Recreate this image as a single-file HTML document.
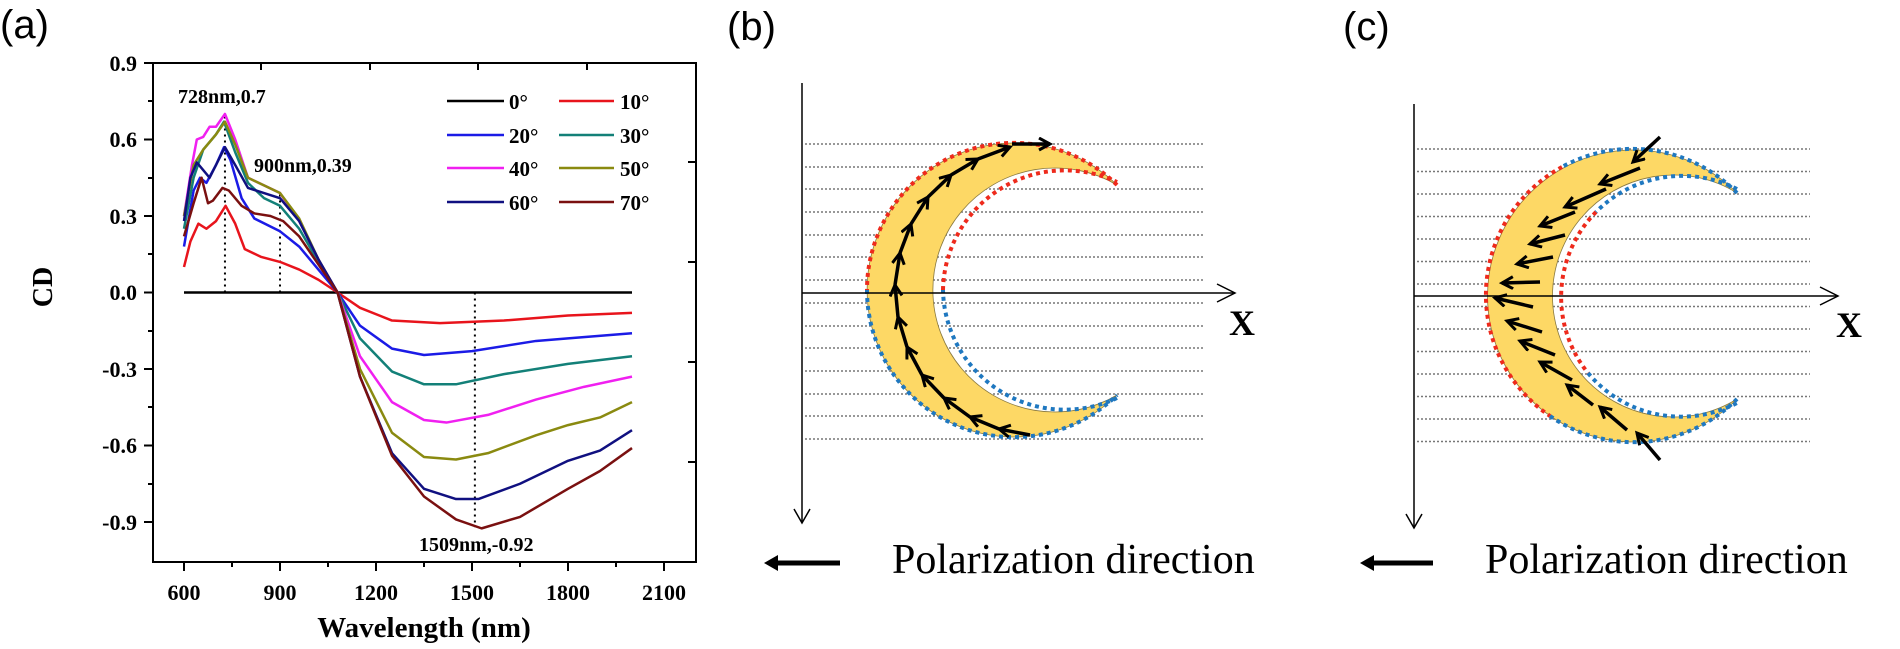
<!DOCTYPE html>
<html><head><meta charset="utf-8"><style>
html,body{margin:0;padding:0;background:#fff;}
svg{display:block}
.t{font-family:"Liberation Serif",serif;font-weight:bold;fill:#000}
</style></head><body>
<svg width="1900" height="649" viewBox="0 0 1900 649" xmlns="http://www.w3.org/2000/svg">
<defs>
<marker id="ah" markerUnits="userSpaceOnUse" markerWidth="16" markerHeight="16" refX="12" refY="7" orient="auto">
<path d="M1,1 L12,7 L1,13" fill="none" stroke="#000" stroke-width="3"/>
</marker>
<marker id="ah2" markerUnits="userSpaceOnUse" markerWidth="16" markerHeight="20" refX="12" refY="9" orient="auto">
<path d="M1,1 L12,9 L1,17" fill="none" stroke="#000" stroke-width="2"/>
</marker>
</defs>

<!-- (a) -->
<text x="0" y="38" font-family="Liberation Sans,sans-serif" font-size="40">(a)</text>
<rect x="153" y="63" width="543" height="499" fill="none" stroke="#000" stroke-width="2"/>
<g stroke="#000" stroke-width="2">
<line x1="184" y1="562" x2="184" y2="571"/><line x1="280" y1="562" x2="280" y2="571"/><line x1="376" y1="562" x2="376" y2="571"/><line x1="472" y1="562" x2="472" y2="571"/><line x1="568" y1="562" x2="568" y2="571"/><line x1="664" y1="562" x2="664" y2="571"/>
<line x1="232" y1="562" x2="232" y2="567"/><line x1="328" y1="562" x2="328" y2="567"/><line x1="424" y1="562" x2="424" y2="567"/><line x1="520" y1="562" x2="520" y2="567"/><line x1="616" y1="562" x2="616" y2="567"/>
<line x1="153" y1="63" x2="144" y2="63"/><line x1="153" y1="139.5" x2="144" y2="139.5"/><line x1="153" y1="216" x2="144" y2="216"/><line x1="153" y1="292.5" x2="144" y2="292.5"/><line x1="153" y1="369" x2="144" y2="369"/><line x1="153" y1="445.5" x2="144" y2="445.5"/><line x1="153" y1="522" x2="144" y2="522"/>
<line x1="153" y1="101" x2="148" y2="101"/><line x1="153" y1="178" x2="148" y2="178"/><line x1="153" y1="254" x2="148" y2="254"/><line x1="153" y1="331" x2="148" y2="331"/><line x1="153" y1="407" x2="148" y2="407"/><line x1="153" y1="484" x2="148" y2="484"/>
<line x1="261" y1="63" x2="261" y2="70"/><line x1="370" y1="63" x2="370" y2="70"/><line x1="478" y1="63" x2="478" y2="70"/><line x1="587" y1="63" x2="587" y2="70"/>
<line x1="696" y1="162" x2="688" y2="162"/><line x1="696" y1="262" x2="688" y2="262"/><line x1="696" y1="362" x2="688" y2="362"/><line x1="696" y1="462" x2="688" y2="462"/>
</g>
<g class="t" font-size="22" text-anchor="end">
<text x="137" y="71">0.9</text><text x="137" y="147">0.6</text><text x="137" y="224">0.3</text><text x="137" y="300">0.0</text><text x="137" y="377">-0.3</text><text x="137" y="453">-0.6</text><text x="137" y="530">-0.9</text>
</g>
<g class="t" font-size="22" text-anchor="middle">
<text x="184" y="600">600</text><text x="280" y="600">900</text><text x="376" y="600">1200</text><text x="472" y="600">1500</text><text x="568" y="600">1800</text><text x="664" y="600">2100</text>
</g>
<text class="t" x="424" y="637" font-size="29" text-anchor="middle">Wavelength (nm)</text>
<text class="t" x="62" y="297" font-size="28" text-anchor="middle" transform="rotate(-90 52 297)">CD</text>

<g transform="translate(-8,292.5) scale(0.32,-255)" fill="none" stroke-linejoin="round">
<g stroke="#000" stroke-width="2" stroke-dasharray="2 4" vector-effect="non-scaling-stroke">
<line x1="728" y1="0" x2="728" y2="0.7" vector-effect="non-scaling-stroke"/>
<line x1="900" y1="0" x2="900" y2="0.39" vector-effect="non-scaling-stroke"/>
<line x1="1509" y1="0" x2="1509" y2="-0.92" vector-effect="non-scaling-stroke"/>
</g>
<g stroke-width="2.5">
<polyline vector-effect="non-scaling-stroke" stroke="#000" points="600,0 2000,0"/>
<polyline vector-effect="non-scaling-stroke" stroke="#e8141c" points="600,0.10 620,0.20 645,0.27 670,0.25 700,0.28 730,0.34 760,0.27 790,0.17 840,0.14 900,0.12 960,0.09 1020,0.05 1080,0 1150,-0.06 1250,-0.11 1400,-0.12 1600,-0.11 1800,-0.09 2000,-0.08"/>
<polyline vector-effect="non-scaling-stroke" stroke="#1b1be6" points="600,0.18 630,0.40 650,0.45 670,0.43 700,0.50 725,0.57 745,0.52 780,0.37 820,0.29 900,0.24 960,0.18 1020,0.09 1080,0 1150,-0.13 1250,-0.22 1350,-0.245 1500,-0.23 1700,-0.19 1800,-0.18 2000,-0.16"/>
<polyline vector-effect="non-scaling-stroke" stroke="#138078" points="600,0.25 630,0.45 660,0.56 700,0.62 725,0.67 760,0.55 800,0.43 850,0.37 900,0.34 960,0.25 1020,0.12 1080,0 1150,-0.18 1250,-0.31 1350,-0.36 1450,-0.36 1600,-0.32 1800,-0.28 2000,-0.25"/>
<polyline vector-effect="non-scaling-stroke" stroke="#f020f0" points="600,0.30 625,0.50 640,0.60 660,0.61 680,0.65 700,0.65 728,0.70 760,0.60 800,0.45 850,0.42 900,0.39 960,0.28 1020,0.13 1080,0 1150,-0.25 1250,-0.43 1350,-0.50 1420,-0.51 1550,-0.48 1700,-0.42 1850,-0.37 2000,-0.33"/>
<polyline vector-effect="non-scaling-stroke" stroke="#8a8a10" points="600,0.30 630,0.50 660,0.56 700,0.62 728,0.67 760,0.58 800,0.45 850,0.42 900,0.39 960,0.29 1020,0.13 1080,0 1150,-0.30 1250,-0.55 1350,-0.645 1450,-0.655 1550,-0.63 1700,-0.56 1800,-0.52 1900,-0.49 2000,-0.43"/>
<polyline vector-effect="non-scaling-stroke" stroke="#101080" points="600,0.28 620,0.45 640,0.51 660,0.48 680,0.45 700,0.50 728,0.57 760,0.50 800,0.41 850,0.39 900,0.37 960,0.28 1020,0.13 1080,0 1150,-0.33 1250,-0.63 1350,-0.77 1450,-0.81 1520,-0.81 1650,-0.75 1800,-0.66 1900,-0.62 2000,-0.54"/>
<polyline vector-effect="non-scaling-stroke" stroke="#7a1010" points="600,0.22 630,0.35 655,0.45 675,0.35 690,0.36 720,0.41 740,0.40 780,0.34 820,0.31 870,0.30 910,0.28 960,0.22 1020,0.11 1080,0 1150,-0.33 1250,-0.64 1350,-0.80 1450,-0.89 1530,-0.925 1650,-0.88 1800,-0.77 1900,-0.70 2000,-0.61"/>
</g>
</g>
<g class="t" font-size="20">
<text x="178" y="103">728nm,0.7</text>
<text x="254" y="172">900nm,0.39</text>
<text x="419" y="551">1509nm,-0.92</text>
</g>
<g stroke-width="2.5">
<line x1="447" y1="101" x2="504" y2="101" stroke="#000"/>
<line x1="559" y1="101" x2="614" y2="101" stroke="#e8141c"/>
<line x1="447" y1="135" x2="504" y2="135" stroke="#1b1be6"/>
<line x1="559" y1="135" x2="614" y2="135" stroke="#138078"/>
<line x1="447" y1="168" x2="504" y2="168" stroke="#f020f0"/>
<line x1="559" y1="168" x2="614" y2="168" stroke="#8a8a10"/>
<line x1="447" y1="202" x2="504" y2="202" stroke="#101080"/>
<line x1="559" y1="202" x2="614" y2="202" stroke="#7a1010"/>
</g>
<g class="t" font-size="21">
<text x="509" y="109">0°</text><text x="620" y="109">10°</text>
<text x="509" y="143">20°</text><text x="620" y="143">30°</text>
<text x="509" y="176">40°</text><text x="620" y="176">50°</text>
<text x="509" y="210">60°</text><text x="620" y="210">70°</text>
</g>

<!-- (b) -->
<text x="727" y="40" font-family="Liberation Sans,sans-serif" font-size="40">(b)</text>
<g stroke="#777" stroke-width="1.5" stroke-dasharray="2 2">
<line x1="805" y1="144" x2="1203" y2="144"/><line x1="805" y1="167" x2="1203" y2="167"/><line x1="805" y1="189" x2="1203" y2="189"/><line x1="805" y1="212" x2="1203" y2="212"/><line x1="805" y1="235" x2="1203" y2="235"/><line x1="805" y1="257" x2="1203" y2="257"/><line x1="805" y1="280" x2="1203" y2="280"/><line x1="805" y1="303" x2="1203" y2="303"/><line x1="805" y1="326" x2="1203" y2="326"/><line x1="805" y1="348" x2="1203" y2="348"/><line x1="805" y1="371" x2="1203" y2="371"/><line x1="805" y1="394" x2="1203" y2="394"/><line x1="805" y1="416" x2="1203" y2="416"/><line x1="805" y1="439" x2="1203" y2="439"/>
</g>
<path d="M1117,185 A147,147 0 1,0 1117,395 A122,122 0 1,1 1117,185 Z" fill="#fdd865" stroke="#8a7a40" stroke-width="0.8"/>
<g fill="none" stroke-width="4" stroke-dasharray="4 4">
<path d="M1117,185 A147,147 0 0,0 867,290" stroke="#ee2a1c"/>
<path d="M867,290 A147,147 0 0,0 1117,395" stroke="#1f78c0"/>
<path d="M943,290 A122,122 0 0,1 1117,182" stroke="#ee2a1c"/>
<path d="M1117,398 A122,122 0 0,1 943,290" stroke="#1f78c0"/>
</g>
<g stroke="#000" stroke-width="1.5" fill="none">
<line x1="802" y1="83" x2="802" y2="523"/>
<path d="M794,509 L802,523 L810,509"/>
<line x1="802" y1="293" x2="1235" y2="293"/>
<path d="M1217,284 L1235,293 L1217,302"/>
</g>
<text class="t" x="1229" y="335" font-size="36">X</text>
<g stroke="#000" stroke-width="3.5" marker-end="url(#ah)">
<line x1="1030" y1="435" x2="999" y2="429"/>
<line x1="999" y1="429" x2="970" y2="417"/>
<line x1="970" y1="417" x2="944" y2="398"/>
<line x1="944" y1="398" x2="922" y2="375"/>
<line x1="922" y1="375" x2="907" y2="347"/>
<line x1="907" y1="347" x2="898" y2="317"/>
<line x1="898" y1="317" x2="895" y2="285"/>
<line x1="895" y1="285" x2="900" y2="253"/>
<line x1="900" y1="253" x2="911" y2="224"/>
<line x1="911" y1="224" x2="928" y2="197"/>
<line x1="928" y1="197" x2="951" y2="175"/>
<line x1="951" y1="175" x2="978" y2="159"/>
<line x1="978" y1="159" x2="1010" y2="147"/>
<line x1="1012" y1="144" x2="1050" y2="144"/>
</g>
<line x1="840" y1="563" x2="770" y2="563" stroke="#000" stroke-width="5"/>
<path d="M778,555 L764,563 L778,571 Z" fill="#000"/>
<text x="892" y="573" font-family="Liberation Serif,serif" font-size="42">Polarization direction</text>

<!-- (c) -->
<text x="1343" y="40" font-family="Liberation Sans,sans-serif" font-size="40">(c)</text>
<g stroke="#777" stroke-width="1.5" stroke-dasharray="2 2">
<line x1="1417" y1="149" x2="1810" y2="149"/><line x1="1417" y1="171.5" x2="1810" y2="171.5"/><line x1="1417" y1="194" x2="1810" y2="194"/><line x1="1417" y1="216.5" x2="1810" y2="216.5"/><line x1="1417" y1="239" x2="1810" y2="239"/><line x1="1417" y1="261.5" x2="1810" y2="261.5"/><line x1="1417" y1="284" x2="1810" y2="284"/><line x1="1417" y1="306.5" x2="1810" y2="306.5"/><line x1="1417" y1="329" x2="1810" y2="329"/><line x1="1417" y1="351.5" x2="1810" y2="351.5"/><line x1="1417" y1="374" x2="1810" y2="374"/><line x1="1417" y1="396.5" x2="1810" y2="396.5"/><line x1="1417" y1="419" x2="1810" y2="419"/><line x1="1417" y1="441.5" x2="1810" y2="441.5"/>
</g>
<path d="M1737,193 A146,146 0 1,0 1737,399 A121,121 0 1,1 1737,193 Z" fill="#fdd865" stroke="#8a7a40" stroke-width="0.8"/>
<g fill="none" stroke-width="4" stroke-dasharray="4 4">
<path d="M1737,193 A146,146 0 0,0 1562,167" stroke="#1f78c0"/>
<path d="M1562,167 A146,146 0 0,0 1550,416" stroke="#ee2a1c"/>
<path d="M1550,416 A146,146 0 0,0 1737,399" stroke="#1f78c0"/>
<path d="M1737,189 A121,121 0 0,0 1596,212" stroke="#1f78c0"/>
<path d="M1596,212 A121,121 0 0,0 1588,373" stroke="#ee2a1c"/>
<path d="M1588,373 A121,121 0 0,0 1737,403" stroke="#1f78c0"/>
</g>
<g stroke="#000" stroke-width="1.5" fill="none">
<line x1="1414" y1="104" x2="1414" y2="528"/>
<path d="M1406,514 L1414,528 L1422,514"/>
<line x1="1414" y1="296" x2="1838" y2="296"/>
<path d="M1820,287 L1838,296 L1820,305"/>
</g>
<text class="t" x="1836" y="337" font-size="36">X</text>
<g stroke="#000" stroke-width="3.5" marker-end="url(#ah)">
<line x1="1660" y1="137" x2="1633" y2="162"/>
<line x1="1640" y1="168" x2="1600" y2="184"/>
<line x1="1606" y1="189" x2="1565" y2="207"/>
<line x1="1575" y1="212" x2="1540" y2="226"/>
<line x1="1565" y1="235" x2="1530" y2="244"/>
<line x1="1553" y1="257" x2="1517" y2="264"/>
<line x1="1540" y1="282" x2="1502" y2="283"/>
<line x1="1533" y1="307" x2="1495" y2="298"/>
<line x1="1542" y1="332" x2="1507" y2="321"/>
<line x1="1555" y1="355" x2="1520" y2="341"/>
<line x1="1572" y1="380" x2="1540" y2="362"/>
<line x1="1593" y1="405" x2="1567" y2="385"/>
<line x1="1627" y1="430" x2="1600" y2="407"/>
<line x1="1660" y1="460" x2="1637" y2="433"/>
</g>
<line x1="1433" y1="563" x2="1366" y2="563" stroke="#000" stroke-width="5"/>
<path d="M1374,555 L1360,563 L1374,571 Z" fill="#000"/>
<text x="1485" y="573" font-family="Liberation Serif,serif" font-size="42">Polarization direction</text>
</svg>
</body></html>
